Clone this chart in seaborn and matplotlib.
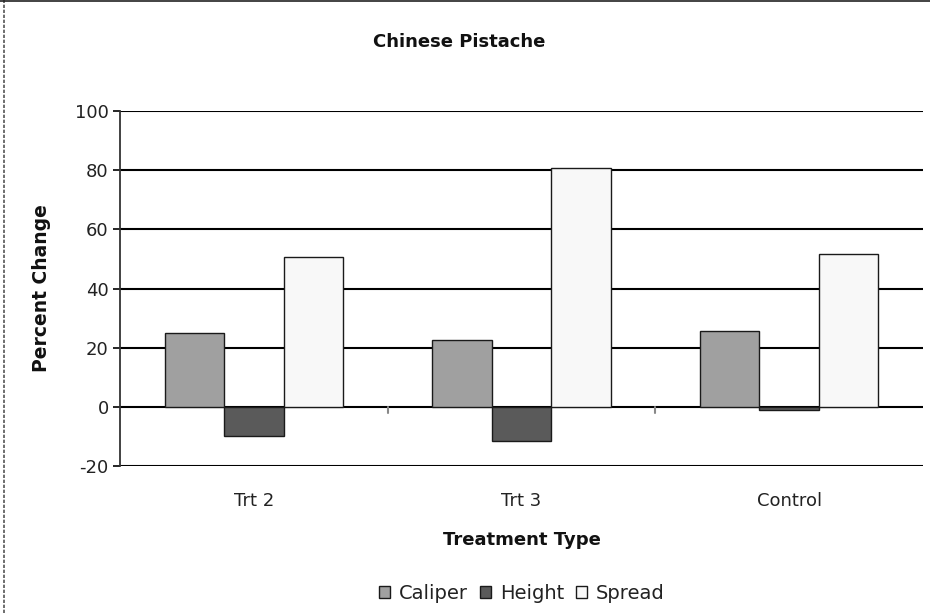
import matplotlib
matplotlib.use("Agg")
import matplotlib.pyplot as plt
import matplotlib.patches as mpatches
import seaborn as sns
import pandas as pd

# Percent change by treatment and growth measure
treatments = ["Trt 2", "Trt 3", "Control"]
caliper = [25.0, 22.5, 25.5]
height = [-10.0, -11.5, -1.2]
spread = [50.5, 80.8, 51.5]
measures = ["Caliper", "Height", "Spread"]
colors = ["#A0A0A0", "#5A5A5A", "#F8F8F8"]
yticks = [-20, 0, 20, 40, 60, 80, 100]

df = pd.DataFrame({
    "Treatment": treatments * 3,
    "Measure": [m for m in measures for _ in treatments],
    "Value": caliper + height + spread,
})

sns.set_theme(style="white")
plt.rcParams["font.family"] = ["DejaVu Sans"]

fig = plt.figure(figsize=(9.3, 6.13), dpi=100)
ax = fig.add_axes([0.129, 0.2398, 0.8635, 0.5791])

sns.barplot(
    data=df, x="Treatment", y="Value", hue="Measure",
    order=treatments, hue_order=measures, palette=colors,
    width=0.667, gap=0, edgecolor="#1a1a1a", linewidth=1.0,
    ax=ax, legend=False, zorder=3,
)

ax.set_ylim(-20, 100)
ax.set_xlim(-0.5, len(treatments) - 0.5)
ax.set_yticks(yticks)
ax.set_yticklabels([str(v) for v in yticks], fontsize=13, color="#222222")
ax.yaxis.grid(True, color="black", linewidth=1.5, zorder=1)
ax.set_axisbelow(True)
ax.tick_params(axis="y", which="major", left=True, length=5, width=1.2,
               color="black", pad=3)
ax.tick_params(axis="x", bottom=False, pad=13, labelsize=13, labelcolor="#222222")

for side in ["top", "right", "bottom"]:
    ax.spines[side].set_visible(False)
ax.spines["left"].set_color("#333333")
ax.spines["left"].set_linestyle((0, (2, 1)))
ax.spines["left"].set_linewidth(1.3)

# small category separators hanging from the zero line
for b in range(1, len(treatments)):
    ax.plot([b - 0.5, b - 0.5], [0, -2.2], color="#888888", linewidth=1.5, zorder=2)

fig.text(0.494, 0.931, "Chinese Pistache", fontsize=13, fontweight="bold",
         color="#111111", ha="center", va="center")
ax.set_ylabel("Percent Change", fontsize=13.5, fontweight="bold", labelpad=17, color="#111111")
ax.set_xlabel("Treatment Type", fontsize=13, fontweight="bold", labelpad=15, color="#111111")

handles = [mpatches.Patch(facecolor=c, edgecolor="#1a1a1a", linewidth=1.0, label=m)
           for m, c in zip(measures, colors)]
fig.legend(handles=handles, loc="center", bbox_to_anchor=(0.561, 0.032), ncol=3,
           frameon=False, fontsize=14, handlelength=0.57, handleheight=0.57,
           handletextpad=0.45, columnspacing=0.6, labelcolor="#222222")

# outer chart border
fig.add_artist(plt.Line2D([0.004, 0.004], [0, 1], transform=fig.transFigure,
                          color="#555555", linewidth=1.2, linestyle=(0, (2, 1))))
fig.add_artist(plt.Line2D([0, 1], [0.999, 0.999], transform=fig.transFigure,
                          color="#222222", linewidth=1.2))

fig.savefig("out.png", dpi=100)
